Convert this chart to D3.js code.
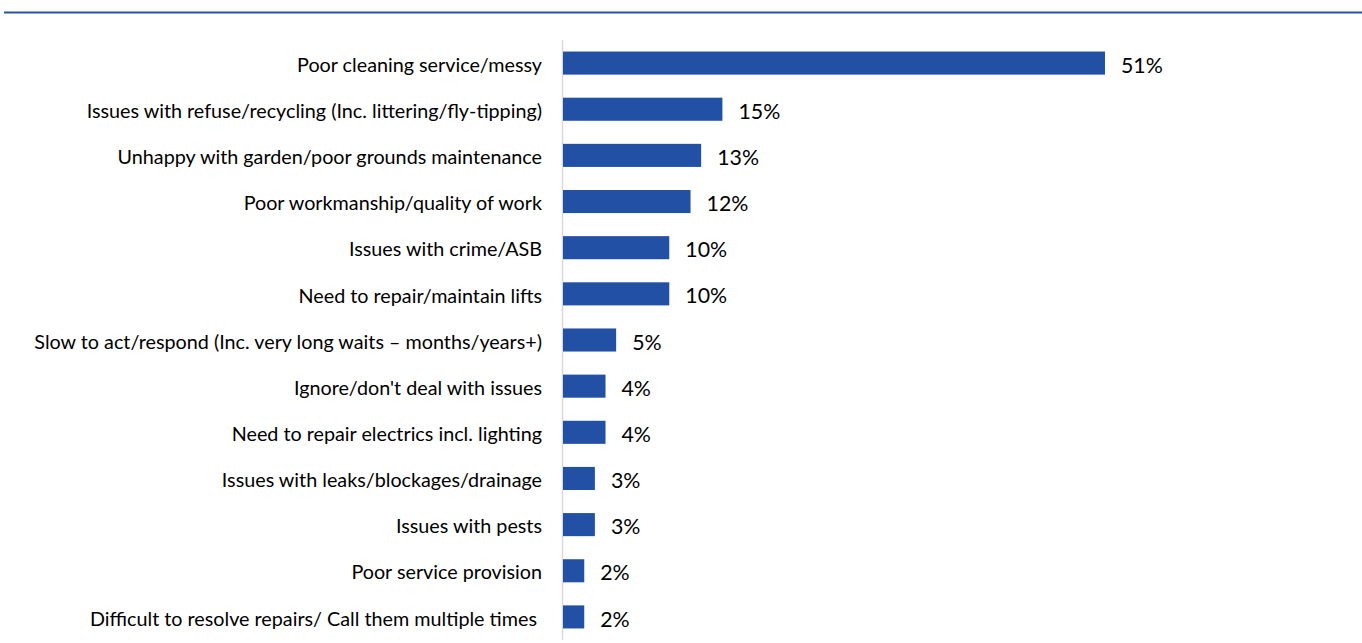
<!DOCTYPE html>
<html>
<head>
<meta charset="utf-8">
<script src="https://cdn.jsdelivr.net/npm/d3@7"></script>
<style>
  body { margin: 0; background: #fff; }
  svg { display: block; }
  text { font-family: Lato, "Open Sans", sans-serif; fill: #000; }
</style>
</head>
<body>
<div id="viz"></div>
<script>
// Data
let categories = [
  'Poor cleaning service/messy',
  'Issues with refuse/recycling (Inc. littering/fly-tipping)',
  'Unhappy with garden/poor grounds maintenance',
  'Poor workmanship/quality of work',
  'Issues with crime/ASB',
  'Need to repair/maintain lifts',
  'Slow to act/respond (Inc. very long waits \u2013 months/years+)',
  "Ignore/don't deal with issues",
  'Need to repair electrics incl. lighting',
  'Issues with leaks/blockages/drainage',
  'Issues with pests',
  'Poor service provision',
  'Difficult to resolve repairs/ Call them multiple times'
]
let values = [51, 15, 13, 12, 10, 10, 5, 4, 4, 3, 3, 2, 2]

let width = 1362, height = 643
let barColor = '#2250a4'

let svg = d3.select('#viz').append('svg')
  .attr('width', width)
  .attr('height', height)

// blue rule across the top
svg.append('line')
  .attr('x1', 4).attr('x2', width)
  .attr('y1', 12.5).attr('y2', 12.5)
  .attr('stroke', '#2a52a0')
  .attr('stroke-width', 2)

let x = d3.scaleLinear()
  .domain([0, 51])
  .range([563, 1105])

let y = d3.scaleBand()
  .domain(categories)
  .range([40, 640])
  .paddingInner(0.5)
  .paddingOuter(0.25)

// category axis line
svg.append('line')
  .attr('x1', 562.5).attr('x2', 562.5)
  .attr('y1', 40).attr('y2', 640)
  .attr('stroke', '#d9d9d9')
  .attr('stroke-width', 1.5)

svg.selectAll('rect.bar')
  .data(values)
  .enter()
  .append('rect')
  .attr('class', 'bar')
  .attr('x', x(0))
  .attr('y', (d, i) => y(categories[i]))
  .attr('width', d => x(d) - x(0))
  .attr('height', y.bandwidth())
  .attr('fill', barColor)

let labels = svg.selectAll('text.cat')
  .data(categories)
  .enter()
  .append('text')
  .attr('class', 'cat')
  .attr('x', (d, i) => i === categories.length - 1 ? 537 : 542)
  .attr('y', d => y(d) + y.bandwidth() / 2)
  .attr('dy', '0.44em')
  .attr('text-anchor', 'end')
  .style('font-size', '18px')
  .text(d => d)

// fit label font so the longest label spans the same width as the picture
let longest = labels.filter((d, i) => i === 6).node()
let w = longest.getComputedTextLength()
let fs = 18 * 508 / w
labels.style('font-size', fs + 'px')

svg.selectAll('text.val')
  .data(values)
  .enter()
  .append('text')
  .attr('class', 'val')
  .attr('x', d => x(d) + 16)
  .attr('y', (d, i) => y(categories[i]) + y.bandwidth() / 2)
  .attr('dy', '0.45em')
  .style('font-size', (fs * 1.08) + 'px')
  .text(d => d + '%')
</script>
</body>
</html>
